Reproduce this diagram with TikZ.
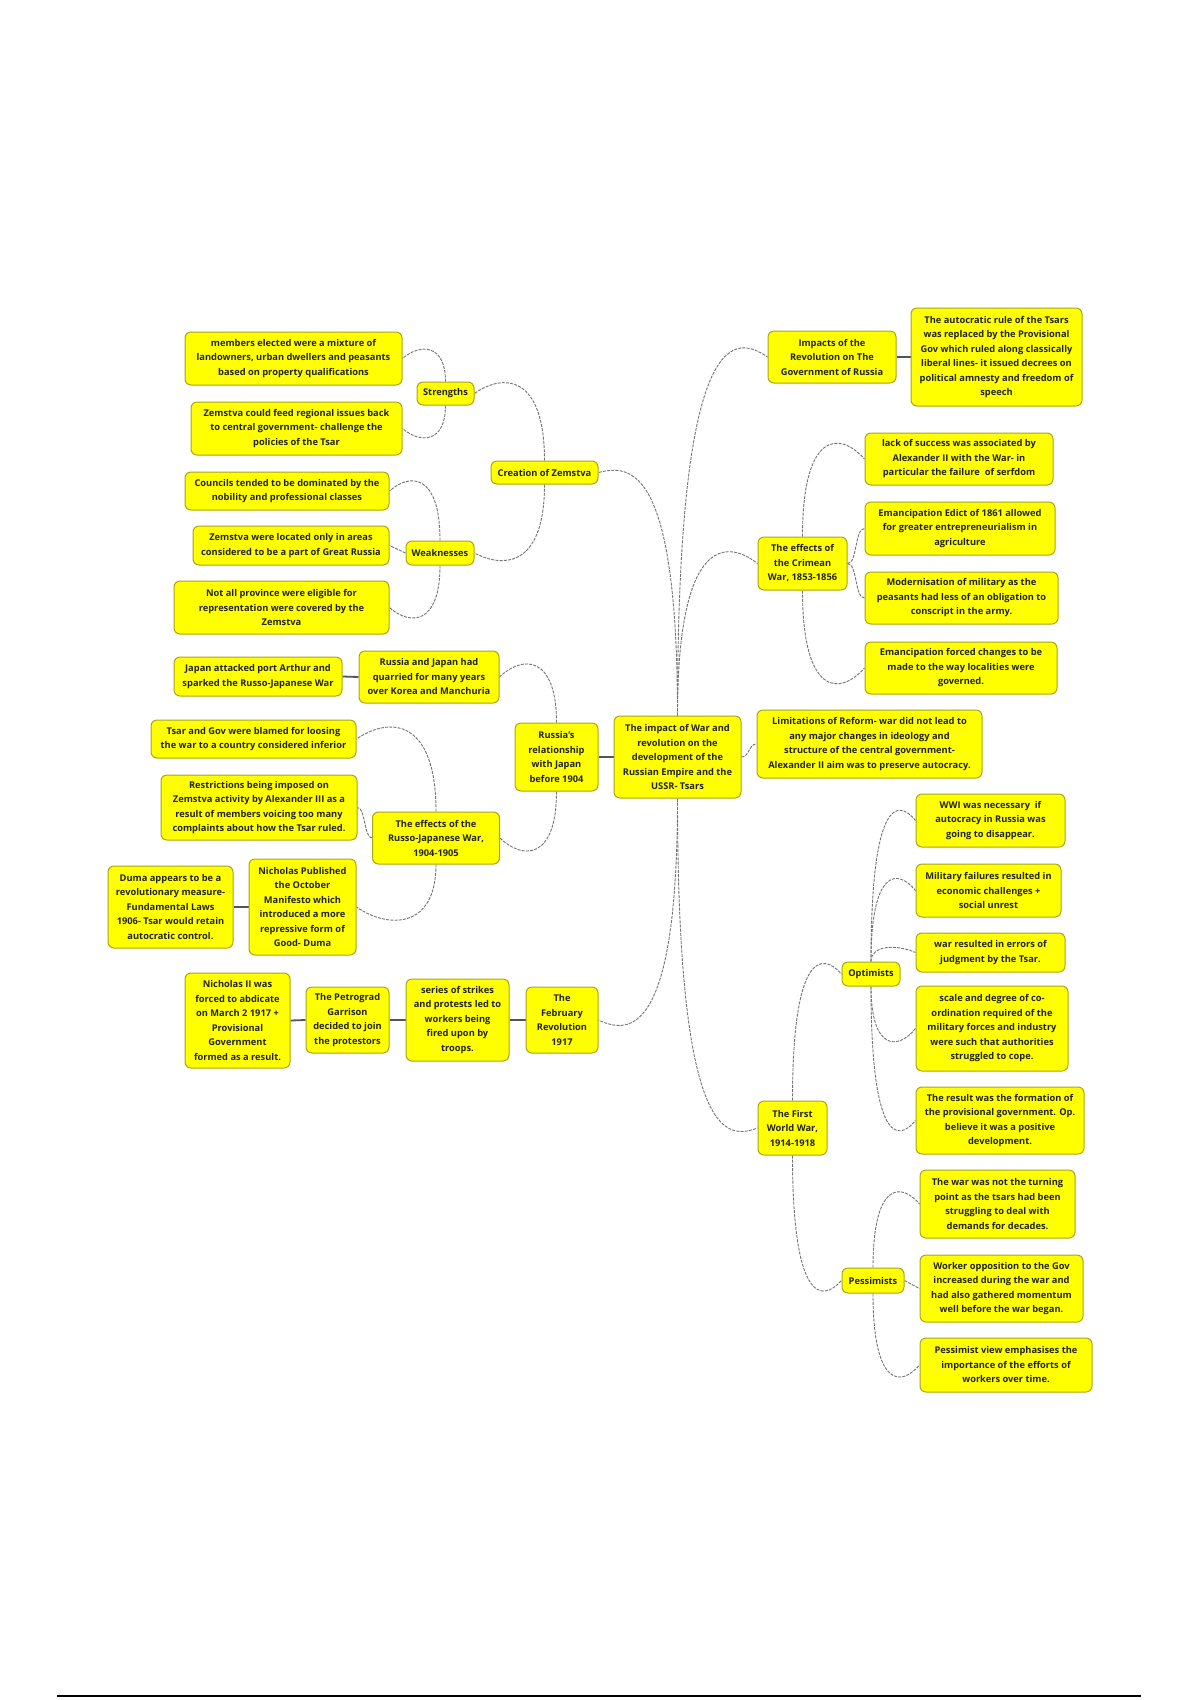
\documentclass[tikz,border=0pt]{standalone}
\usepackage{fontspec}
\setmainfont{Open Sans}
\usetikzlibrary{backgrounds,calc}
\definecolor{boxfill}{RGB}{255,255,0}
\definecolor{boxline}{RGB}{170,165,20}
\definecolor{txt}{RGB}{35,35,20}
\definecolor{conncol}{RGB}{115,115,115}
\definecolor{linkcol}{RGB}{85,85,85}
\tikzset{
 box/.style={draw=boxline, fill=boxfill, rounded corners=6pt, line width=1pt, align=center, inner sep=2pt, text=txt, font=\bfseries\fontsize{9.3}{14.5}\selectfont},
 sz/.style 2 args={minimum width=#1pt, minimum height=#2pt},
 conn/.style={draw=conncol, line width=0.9pt, dash pattern=on 3pt off 1.2pt},
 link/.style={draw=linkcol, line width=1.8pt},
}
% arch connector: parent anchor #1, child anchor #2, overshoot #3 (canvas, + = up)
\newcommand\archconn[3]{\draw[conn] (#1) .. controls ($(#1 |- #2)+(0pt,#3)$) and ($(#1 |- #2)!0.6!(#2)+(0pt,#3)$) .. (#2);}
\begin{document}
\begin{tikzpicture}[x=1pt,y=-1pt]
\useasboundingbox (0,0) rectangle (1200,1700);
% centre
\node[box, sz={127}{82}] (ctr) at (677.5,757) {The impact of War and\\revolution on the\\development of the\\Russian Empire and the\\USSR- Tsars};
% Zemstva branch
\node[box, sz={107}{23}] (cre) at (544.5,472.5) {Creation of Zemstva};
\node[box, sz={57}{23}] (str) at (445.5,393.5) {Strengths};
\node[box, sz={217}{53}] (s1) at (293.5,358.5) {members elected were a mixture of\\landowners, urban dwellers and peasants\\based on property qualifications};
\node[box, sz={211}{53}] (s2) at (296.5,428.5) {Zemstva could feed regional issues back\\to central government- challenge the\\policies of the Tsar};
\node[box, sz={68}{24}] (wk) at (440,553) {Weaknesses};
\node[box, sz={204}{38}] (w1) at (287,491) {Councils tended to be dominated by the\\nobility and professional classes};
\node[box, sz={196}{39}] (w2) at (291,545.5) {Zemstva were located only in areas\\considered to be a part of Great Russia};
\node[box, sz={215}{53}] (w3) at (281.5,607.5) {Not all province were eligible for\\representation were covered by the\\Zemstva};
% Japan branch
\node[box, sz={83}{68}] (rr) at (556.5,757) {Russia's\\relationship\\with Japan\\before 1904};
\node[box, sz={140}{52}] (rj) at (429,677) {Russia and Japan had\\quarried for many years\\over Korea and Manchuria};
\node[box, sz={168}{39}] (ja) at (258,676.5) {Japan attacked port Arthur and\\sparked the Russo-Japanese War};
\node[box, sz={127}{52}] (erj) at (436,838) {The effects of the\\Russo-Japanese War,\\1904-1905};
\node[box, sz={205}{38}] (tg) at (253.5,739) {Tsar and Gov were blamed for loosing\\the war to a country considered inferior};
\node[box, sz={196}{65}] (rs) at (259,807.5) {Restrictions being imposed on\\Zemstva activity by Alexander III as a\\result of members voicing too many\\complaints about how the Tsar ruled.};
\node[box, sz={107}{96}] (np) at (302.5,907) {Nicholas Published\\the October\\Manifesto which\\introduced a more\\repressive form of\\Good- Duma};
\node[box, sz={125}{82}] (du) at (170.5,907) {Duma appears to be a\\revolutionary measure-\\Fundamental Laws\\1906- Tsar would retain\\autocratic control.};
% February revolution
\node[box, sz={72}{66}] (feb) at (562,1020) {The\\February\\Revolution\\1917};
\node[box, sz={103}{82}] (ser) at (457.5,1020) {series of strikes\\and protests led to\\workers being\\fired upon by\\troops.};
\node[box, sz={83}{66}] (pg) at (347.5,1020) {The Petrograd\\Garrison\\decided to join\\the protestors};
\node[box, sz={105}{95}] (ab) at (237.5,1020.5) {Nicholas II was\\forced to abdicate\\on March 2 1917 +\\Provisional\\Government\\formed as a result.};
% right top
\node[box, sz={128}{52}] (imp) at (832,357) {Impacts of the\\Revolution on The\\Government of Russia};
\node[box, sz={171}{98}] (aut) at (996.5,357) {The autocratic rule of the Tsars\\was replaced by the Provisional\\Gov which ruled along classically\\liberal lines- it issued decrees on\\political amnesty and freedom of\\speech};
% Crimean
\node[box, sz={89}{53}] (cw) at (802.5,563.5) {The effects of\\the Crimean\\War, 1853-1856};
\node[box, sz={188}{52}] (c1) at (959,459) {lack of success was associated by\\Alexander II with the War- in\\particular the failure~ of serfdom};
\node[box, sz={190}{53}] (c2) at (960,528.5) {Emancipation Edict of 1861 allowed\\for greater entrepreneurialism in\\agriculture};
\node[box, sz={193}{52}] (c3) at (961.5,598) {Modernisation of military as the\\peasants had less of an obligation to\\conscript in the army.};
\node[box, sz={192}{52}] (c4) at (961,668) {Emancipation forced changes to be\\made to the way localities were\\governed.};
\node[box, sz={225}{68}] (lim) at (869.5,744) {Limitations of Reform- war did not lead to\\any major changes in ideology and\\structure of the central government-\\Alexander II aim was to preserve autocracy.};
% WWI
\node[box, sz={69}{54}] (ww) at (792.5,1128) {The First\\World War,\\1914-1918};
\node[box, sz={58}{24}] (opt) at (871,974) {Optimists};
\node[box, sz={62}{25}] (pes) at (873,1280.5) {Pessimists};
\node[box, sz={149}{53}] (o1) at (990.5,820.5) {WWI was necessary~ if\\autocracy in Russia was\\going to disappear.};
\node[box, sz={145}{53}] (o2) at (988.5,890.5) {Military failures resulted in\\economic challenges +\\social unrest};
\node[box, sz={149}{39}] (o3) at (990.5,952.5) {war resulted in errors of\\judgment by the Tsar.};
\node[box, sz={152}{85}] (o4) at (992,1028.5) {scale and degree of co-\\ordination required of the\\military forces and industry\\were such that authorities\\struggled to cope.};
\node[box, sz={168}{67}] (o5) at (1000,1120.5) {The result was the formation of\\the provisional government. Op.\\believe it was a positive\\development.};
\node[box, sz={155}{68}] (p1) at (997.5,1204) {The war was not the turning\\point as the tsars had been\\struggling to deal with\\demands for decades.};
\node[box, sz={163}{67}] (p2) at (1001.5,1288.5) {Worker opposition to the Gov\\increased during the war and\\had also gathered momentum\\well before the war began.};
\node[box, sz={172}{54}] (p3) at (1006,1365) {Pessimist view emphasises the\\importance of the efforts of\\workers over time.};
% connectors
\begin{scope}[on background layer]
\fill[white] (0,0) rectangle (1200,1700);
% centre
\archconn{ctr.north}{cre.east}{8pt}
\archconn{ctr.north}{imp.west}{25pt}
\archconn{ctr.north}{cw.west}{25pt}
\archconn{ctr.south}{feb.east}{-15pt}
\archconn{ctr.south}{ww.west}{-12pt}
\draw[conn] (ctr.east) .. controls ([xshift=8pt]ctr.east) and ([xshift=-8pt]lim.west) .. (lim.west);
\draw[link] (ctr.west) -- (rr.east);
% Zemstva
\archconn{cre.north}{str.east}{20pt}
\archconn{cre.south}{wk.east}{-15pt}
\archconn{str.north}{s1.east}{15pt}
\archconn{str.south}{s2.east}{-15pt}
\archconn{wk.north}{w1.east}{18pt}
\archconn{wk.south}{w3.east}{-18pt}
\draw[conn] (wk.west) -- (w2.east);
% Japan
\archconn{rr.north}{rj.east}{22pt}
\archconn{rr.south}{erj.east}{-22pt}
\draw[link] (rj.west) -- (ja.east);
\archconn{erj.north}{tg.east}{22pt}
\archconn{erj.south}{np.east}{-22pt}
\draw[conn] (erj.west) .. controls ([xshift=-8pt]erj.west) and ([xshift=8pt]rs.east) .. (rs.east);
\draw[link] (np.west) -- (du.east);
% February
\draw[link] (feb.west) -- (ser.east);
\draw[link] (ser.west) -- (pg.east);
\draw[link] (pg.west) -- (ab.east);
% right
\draw[link] (imp.east) -- (aut.west);
\archconn{cw.north}{c1.west}{28pt}
\draw[conn] (cw.east) .. controls ([xshift=10pt]cw.east) and ([xshift=-10pt]c2.west) .. (c2.west);
\draw[conn] (cw.east) .. controls ([xshift=10pt]cw.east) and ([xshift=-10pt]c3.west) .. (c3.west);
\archconn{cw.south}{c4.west}{-28pt}
% WWI
\archconn{ww.north}{opt.west}{22pt}
\archconn{ww.south}{pes.west}{-22pt}
\archconn{opt.north}{o1.west}{22pt}
\archconn{opt.north}{o2.west}{22pt}
\archconn{opt.north}{o3.west}{8pt}
\archconn{opt.south}{o4.west}{-22pt}
\archconn{opt.south}{o5.west}{-22pt}
\archconn{pes.north}{p1.west}{22pt}
\draw[conn] (pes.east) -- (p2.west);
\archconn{pes.south}{p3.west}{-22pt}
\end{scope}
\draw[line width=2pt, black] (57,1696) -- (1141,1696);
\end{tikzpicture}
\end{document}
